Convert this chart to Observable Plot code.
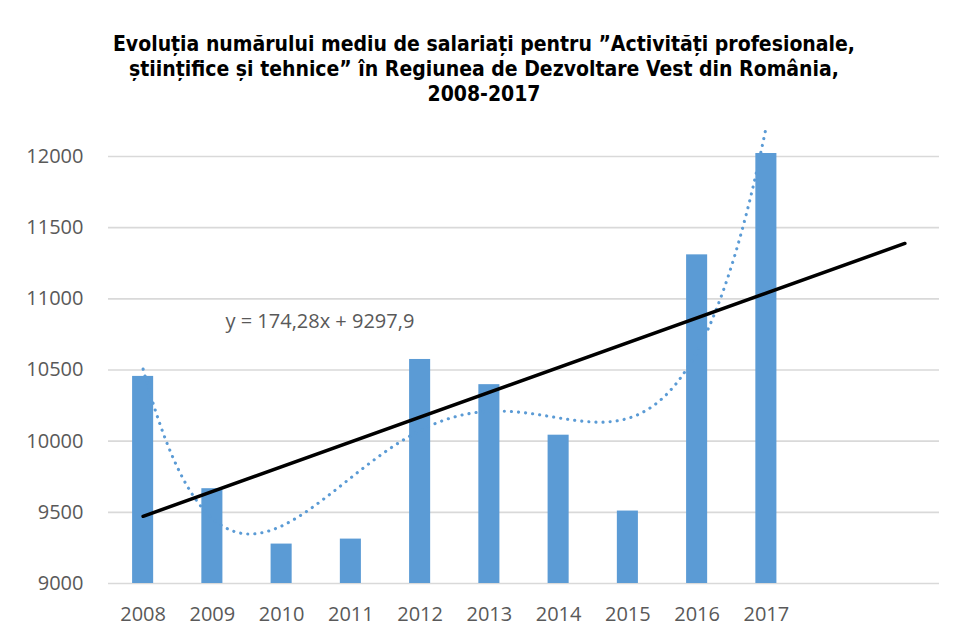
<!DOCTYPE html>
<html>
<head>
<meta charset="utf-8">
<script src="https://cdn.jsdelivr.net/npm/d3@7"></script>
<script src="https://cdn.jsdelivr.net/npm/@observablehq/plot@0.6"></script>
<style>
  html, body { margin: 0; padding: 0; background: #fff; }
  #wrap { width: 954px; height: 635px; position: relative; overflow: hidden; }
  #title {
    height: 120px; box-sizing: border-box; padding-top: 32px; padding-left: 14px;
    font-family: "DejaVu Sans Condensed", "DejaVu Sans", sans-serif; font-weight: bold;
    font-size: 21px; line-height: 25px; text-align: center; color: #000;
  }
</style>
</head>
<body>
<div id="wrap">
  <div id="title">Evoluția numărului mediu de salariați pentru ”Activități profesionale,<br>științifice și tehnice” în Regiunea de Dezvoltare Vest din România,<br>2008-2017</div>
  <div id="chart"></div>
</div>
<script>
// ---- data ----
const years = ["2008","2009","2010","2011","2012","2013","2014","2015","2016","2017"];
const values = [10455, 9666, 9277, 9312, 10574, 10397, 10042, 9509, 11309, 12021];
const yTicks = [9000, 9500, 10000, 10500, 11000, 11500, 12000];
const trendCoef = [174.28, 9297.9];   // slope, intercept (Excel linear trendline)
const trendForward = 2;               // forecast periods forward
const polyDegree = 4;                 // Excel polynomial trendline order

const data = years.map((y, i) => ({year: y, i: i + 1, value: values[i]}));

// least-squares polynomial fit (Excel-style polynomial trendline)
function polyfit(xs, ys, deg) {
  const m = d3.mean(xs), s = (d3.max(xs) - d3.min(xs)) / 2;
  const ts = xs.map(x => (x - m) / s);
  const n = deg + 1;
  const A = Array.from({length: n}, () => new Array(n + 1).fill(0));
  for (let k = 0; k < ts.length; k++) {
    for (let r = 0; r < n; r++) {
      for (let c = 0; c < n; c++) A[r][c] += Math.pow(ts[k], r + c);
      A[r][n] += ys[k] * Math.pow(ts[k], r);
    }
  }
  for (let c = 0; c < n; c++) {
    let p = c;
    for (let r = c + 1; r < n; r++) if (Math.abs(A[r][c]) > Math.abs(A[p][c])) p = r;
    [A[c], A[p]] = [A[p], A[c]];
    for (let r = 0; r < n; r++) {
      if (r === c) continue;
      const f = A[r][c] / A[c][c];
      for (let k = c; k <= n; k++) A[r][k] -= f * A[c][k];
    }
  }
  const coef = A.map((row, r) => row[n] / row[r]);
  return x => { const t = (x - m) / s; return coef.reduce((acc, c, j) => acc + c * Math.pow(t, j), 0); };
}
const poly = polyfit(data.map(d => d.i), values, polyDegree);
const polyCurve = d3.range(1, years.length + 0.0001, 0.05).map(x => ({x, y: poly(x)}));
const trendLine = [1, years.length + trendForward].map(x => ({x, y: trendCoef[0] * x + trendCoef[1]}));
const fmt = v => String(v).replace(".", ",");
const eqLabel = `y = ${fmt(trendCoef[0])}x + ${fmt(trendCoef[1])}`;

const blue = "#5B9BD5";
const nSlots = years.length + trendForward;
const halfBar = 0.152;

const chart = Plot.plot({
  width: 954,
  height: 515,
  marginTop: 36,
  marginBottom: 52,
  marginLeft: 108,
  marginRight: 15,
  style: {fontFamily: "'Open Sans', sans-serif", fontSize: "20px", color: "#595959", background: "#fff"},
  x: {type: "linear", domain: [0.5, nSlots + 0.5]},
  y: {domain: [9000, 12000]},
  marks: [
    Plot.ruleY(yTicks, {stroke: "#d9d9d9", strokeWidth: 1.6}),
    Plot.rectY(data, {x1: d => d.i - halfBar, x2: d => d.i + halfBar, y1: 9000, y2: "value", fill: blue}),
    Plot.line(polyCurve, {x: "x", y: "y", stroke: blue, strokeWidth: 3.1, strokeDasharray: "0.1 7", strokeLinecap: "round"}),
    Plot.line(trendLine, {x: "x", y: "y", stroke: "#000", strokeWidth: 3.5, strokeLinecap: "round"}),
    Plot.axisY({ticks: yTicks, tickSize: 0, tickPadding: 25, tickFormat: d => String(d), fontSize: 20, fill: "#595959", label: null}),
    Plot.axisX({ticks: d3.range(1, years.length + 1), tickSize: 0, tickPadding: 23, tickFormat: d => years[d - 1], fontSize: 20, fill: "#595959", label: null}),
    Plot.text([eqLabel], {frameAnchor: "top-left", dx: 117, dy: 165, textAnchor: "start", lineAnchor: "middle", fontSize: 20, fill: "#595959"})
  ]
});
document.getElementById("chart").appendChild(chart);
</script>
</body>
</html>
